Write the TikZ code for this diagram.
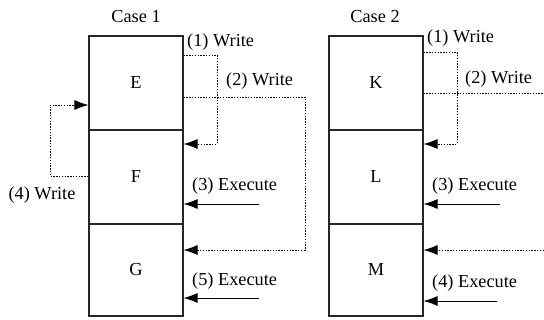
\documentclass[tikz,border=0pt]{standalone}
\usepackage{fontspec}
\setmainfont{Liberation Serif}
\usetikzlibrary{arrows.meta}
\begin{document}
\begin{tikzpicture}[x=1pt,y=-1pt,
  every node/.style={font=\fontsize{18.3}{21}\selectfont, text=black},
  cell/.style={draw=black!85, line width=1.1pt, minimum width=94pt, inner sep=0pt},
  lbl/.style={anchor=west, inner sep=0pt},
  dotline/.style={line width=0.9pt, dash pattern=on 1.4pt off 1.4pt},
  arr/.style={-{Latex[length=14pt,width=10pt]}},
  solidarr/.style={line width=0.9pt, -{Latex[length=14pt,width=10pt]}}]
\useasboundingbox (0,0) rectangle (544,320);
% Case 1 boxes
\node[cell, minimum height=94pt] (E) at (136,83) {E};
\node[cell, minimum height=94pt] (F) at (136,177) {F};
\node[cell, minimum height=92pt] (G) at (136,270) {G};
% Case 2 boxes
\node[cell, minimum height=94pt] (K) at (376,83) {K};
\node[cell, minimum height=94pt] (L) at (376,177) {L};
\node[cell, minimum height=92pt] (M) at (376,270) {M};
% titles
\node (c1) at (136,17) {Case 1};
\node (c2) at (375,17) {Case 2};
% case 1 labels
\node[lbl] (w1) at (187,42) {(1) Write};
\node[lbl] (w2) at (226,81) {(2) Write};
\node[lbl] (x3) at (192,186) {(3) Execute};
\node[lbl] (x5) at (192,281) {(5) Execute};
\node (w4) at (42,195) {(4) Write};
% case 2 labels
\node[lbl] (k1) at (427,38) {(1) Write};
\node[lbl] (k2) at (465,79) {(2) Write};
\node[lbl] (k3) at (432,186) {(3) Execute};
\node[lbl] (k4) at (432,283) {(4) Execute};
% free ends
\coordinate (e3) at (259,204);
\coordinate (e5) at (259,298);
\coordinate (f3) at (500,204);
\coordinate (f4) at (497,301);
\coordinate (r2) at (544,93);
\coordinate (r5) at (544,250);
% case 1 connectors
\draw[dotline, arr] (E.east |- 0,55) -- (217,55) |- (F.east |- 0,144);
\draw[dotline, arr] (E.east |- 0,97) -- (305,97) |- (G.east |- 0,250);
\draw[dotline, arr] (F.west |- 0,176) -- (50,176) |- (E.west |- 0,105);
\draw[solidarr] (e3) -- (F.east |- e3);
\draw[solidarr] (e5) -- (G.east |- e5);
% case 2 connectors
\draw[dotline, arr] (K.east |- 0,52) -- (457,52) |- (L.east |- 0,144);
\draw[dotline] (K.east |- r2) -- (r2);
\draw[dotline, arr] (r5) -- (M.east |- r5);
\draw[solidarr] (f3) -- (L.east |- f3);
\draw[solidarr] (f4) -- (M.east |- f4);
\end{tikzpicture}
\end{document}
